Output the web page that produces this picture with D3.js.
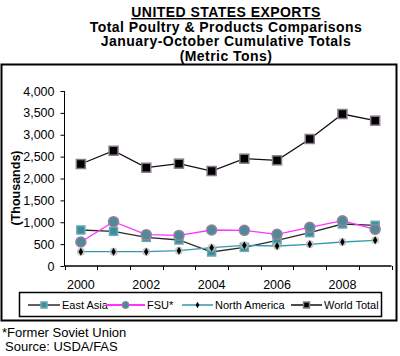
<!DOCTYPE html>
<html><head><meta charset="utf-8">
<script src="https://cdn.jsdelivr.net/npm/d3@7"></script>
<style>body{margin:0;background:#fff}svg{display:block;font-family:Arial,"Liberation Sans",sans-serif}</style>
</head><body><svg id="c" width="400" height="356"></svg>
<script>
const years = [2000,2001,2002,2003,2004,2005,2006,2007,2008,2009];
const yTicks = [0,500,1000,1500,2000,2500,3000,3500,4000];
const eastAsia = [823,793,655,594,320,427,587,762,960,930];
const fsu = [549,1013,716,700,823,815,724,884,1035,838];
const northAmerica = [327,327,327,350,419,472,457,496,549,587];
const worldTotal = [2331,2635,2247,2339,2171,2453,2415,2903,3474,3322];
const seriesNames = ["East Asia","FSU*","North America","World Total"];

const svg = d3.select("#c");
const titles = ["UNITED STATES EXPORTS","Total Poultry & Products Comparisons","January-October Cumulative Totals","(Metric Tons)"];
titles.forEach((t,i)=>{
  svg.append("text").attr("x",226).attr("y",17+i*14.7).attr("text-anchor","middle")
    .attr("font-size",14).attr("letter-spacing",0.45).attr("font-weight","bold").attr("fill","#000")
    .attr("text-decoration", i===0?"underline":null).text(t);
});
svg.append("rect").attr("x",1.5).attr("y",64.5).attr("width",395).attr("height",256)
  .attr("fill","none").attr("stroke","#000").attr("stroke-width",2);

const x = d3.scaleBand().domain(years).range([64.5,391.5]);
const y = d3.scaleLinear().domain([0,4000]).range([266,91]);

const yAxis = svg.append("g").attr("transform","translate(64.5,0)")
  .call(d3.axisLeft(y).tickValues(yTicks).tickSize(4).tickFormat(d3.format(",")));
yAxis.select(".domain").attr("d","M0,91V266").attr("stroke","#000");
yAxis.selectAll("text").attr("font-size",12.5).attr("font-family","Arial,'Liberation Sans',sans-serif").attr("fill","#000").attr("x",-10);

const xAxis = svg.append("g").attr("transform","translate(0,266)");
xAxis.append("line").attr("x1",64.5).attr("x2",391.5).attr("stroke","#000").attr("stroke-width",1.5);
const bounds = years.map(d=>x(d)).concat([x.range()[1]]);
xAxis.selectAll(".tk").data(bounds).enter().append("line")
  .attr("x1",d=>Math.round(d)+0.5).attr("x2",d=>Math.round(d)+0.5).attr("y1",0).attr("y2",4).attr("stroke","#000");
xAxis.selectAll(".lb").data(years.filter((d,i)=>i%2===0)).enter().append("text")
  .attr("x",d=>x(d)+x.bandwidth()/2).attr("y",23).attr("text-anchor","middle")
  .attr("font-size",12.5).attr("fill","#000").text(d=>d);

svg.append("text").attr("transform","translate(20,188) rotate(-90)").attr("text-anchor","middle")
  .attr("font-size",12.5).attr("font-weight","bold").attr("fill","#000").text("(Thousands)");

const cx = d=>x(d)+x.bandwidth()/2;
const line = d3.line().x((v,i)=>cx(years[i])).y(v=>y(v));

function square(g, px, py, s, fill, stroke){
  g.append("rect").attr("x",px-s/2).attr("y",py-s/2).attr("width",s).attr("height",s)
   .attr("fill",fill).attr("stroke",stroke).attr("stroke-width",1.5);
}
function circle(g,px,py){
  g.append("circle").attr("cx",px).attr("cy",py).attr("r",5).attr("fill","#4f8b97").attr("stroke","#9a7f9f").attr("stroke-width",1.5);
}
function star(g,px,py){
  g.append("circle").attr("cx",px).attr("cy",py).attr("r",4).attr("fill","#bbb").attr("opacity",0.8);
  g.append("path").attr("d",d3.symbol(d3.symbolDiamond,18)()).attr("transform",`translate(${px},${py})`).attr("fill","#000");
}
const series = [
  {data:eastAsia, stroke:"#2b2b2b", mark:(g,px,py)=>square(g,px,py,8,"#3b8e9c","#6aa8b2")},
  {data:fsu, stroke:"#ff33ff", mark:circle},
  {data:northAmerica, stroke:"#3399aa", mark:star},
  {data:worldTotal, stroke:"#111", mark:(g,px,py)=>square(g,px,py,9,"#000","#8a7a8e")}
];
series.forEach(s=>{
  svg.append("path").attr("d",line(s.data)).attr("fill","none").attr("stroke",s.stroke).attr("stroke-width",1.3);
});
series.forEach(s=>{
  const g = svg.append("g");
  s.data.forEach((v,i)=>s.mark(g,cx(years[i]),y(v)));
});

svg.append("rect").attr("x",19.5).attr("y",292.5).attr("width",362).attr("height",24)
  .attr("fill","none").attr("stroke","#000").attr("stroke-width",1.5);
const legX = [28,106,182,291];
const legW = [32,39,31,31];
series.forEach((s,i)=>{
  const g = svg.append("g");
  const ly = 305;
  g.append("line").attr("x1",legX[i]).attr("x2",legX[i]+legW[i]).attr("y1",ly).attr("y2",ly)
    .attr("stroke",s.stroke).attr("stroke-width",i===1?2:1.5);
  const mx = legX[i]+legW[i]/2;
  if(i===0) square(g,mx,ly,6,"#3b8e9c","#6aa8b2");
  if(i===1) g.append("circle").attr("cx",mx).attr("cy",ly).attr("r",3.5).attr("fill","#4f8b97").attr("stroke","#9a7f9f");
  if(i===2) g.append("path").attr("d",d3.symbol(d3.symbolDiamond,12)()).attr("transform",`translate(${mx},${ly})`).attr("fill","#000");
  if(i===3) square(g,mx,ly,6,"#000","#8a7a8e");
  g.append("text").attr("x",legX[i]+legW[i]+2).attr("y",ly+4).attr("font-size",11).attr("fill","#000").text(seriesNames[i]);
});

svg.append("text").attr("x",2).attr("y",337).attr("font-size",13).attr("fill","#000").text("*Former Soviet Union");
svg.append("text").attr("x",5).attr("y",351).attr("font-size",13).attr("fill","#000").text("Source: USDA/FAS");
</script></body></html>
